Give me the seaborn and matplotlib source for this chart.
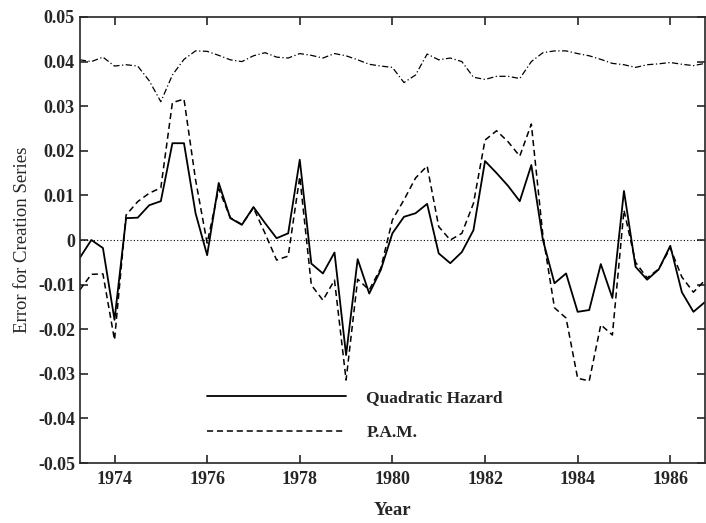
import numpy as np
import pandas as pd
import matplotlib
matplotlib.use("Agg")
import matplotlib.pyplot as plt
import seaborn as sns

# quarterly observations, 1973 Q2 .. 1986 Q4
years = 1973.25 + 0.25 * np.arange(55)

quad_hazard = [
    -0.0040, 0.0000, -0.0018, -0.0179, 0.0049, 0.0050, 0.0078, 0.0087,
    0.0217, 0.0217, 0.0060, -0.0034, 0.0128, 0.0049, 0.0034, 0.0074,
    0.0038, 0.0004, 0.0015, 0.0180, -0.0053, -0.0075, -0.0028, -0.0258,
    -0.0043, -0.0120, -0.0067, 0.0015, 0.0052, 0.0060, 0.0081, -0.0030,
    -0.0052, -0.0027, 0.0022, 0.0177, 0.0150, 0.0121, 0.0087, 0.0168,
    0.0000, -0.0097, -0.0075, -0.0161, -0.0157, -0.0054, -0.0130, 0.0110,
    -0.0060, -0.0089, -0.0066, -0.0013, -0.0117, -0.0161, -0.0139,
]

pam = [
    -0.0112, -0.0077, -0.0076, -0.0224, 0.0056, 0.0086, 0.0105, 0.0117,
    0.0308, 0.0316, 0.0135, -0.0007, 0.0115, 0.0050, 0.0035, 0.0072,
    0.0015, -0.0045, -0.0036, 0.0142, -0.0101, -0.0135, -0.0090, -0.0314,
    -0.0088, -0.0112, -0.0063, 0.0045, 0.0090, 0.0139, 0.0166, 0.0030,
    0.0000, 0.0015, 0.0082, 0.0224, 0.0245, 0.0220, 0.0188, 0.0260,
    0.0010, -0.0152, -0.0175, -0.0310, -0.0316, -0.0190, -0.0213, 0.0067,
    -0.0050, -0.0085, -0.0065, -0.0018, -0.0083, -0.0117, -0.0090,
]

# reference series drawn along the top (dash-dot)
creation = [
    0.0404, 0.0400, 0.0410, 0.0390, 0.0393, 0.0390, 0.0357, 0.0310,
    0.0370, 0.0405, 0.0424, 0.0423, 0.0414, 0.0404, 0.0400, 0.0413,
    0.0420, 0.0410, 0.0408, 0.0418, 0.0414, 0.0408, 0.0418, 0.0413,
    0.0404, 0.0394, 0.0390, 0.0387, 0.0353, 0.0370, 0.0417, 0.0404,
    0.0408, 0.0400, 0.0365, 0.0360, 0.0367, 0.0367, 0.0362, 0.0400,
    0.0420, 0.0424, 0.0424, 0.0418, 0.0413, 0.0405, 0.0396, 0.0393,
    0.0387, 0.0393, 0.0395, 0.0398, 0.0394, 0.0391, 0.0396,
]

y_ticks = [-0.05, -0.04, -0.03, -0.02, -0.01, 0, 0.01, 0.02, 0.03, 0.04, 0.05]
y_labels = ["-0.05", "-0.04", "-0.03", "-0.02", "-0.01", "0",
            "0.01", "0.02", "0.03", "0.04", "0.05"]
x_ticks = [1974, 1976, 1978, 1980, 1982, 1984, 1986]

df = pd.DataFrame({"Year": years, "Quadratic Hazard": quad_hazard,
                   "P.A.M.": pam, "creation": creation})

sns.set_style("ticks")
plt.rcParams["font.family"] = ["Liberation Serif", "DejaVu Serif"]

fig = plt.figure(figsize=(7.06, 5.23), dpi=100)
ax = fig.add_axes([0.113, 0.1147, 0.8856, 0.8528])

sns.lineplot(data=df, x="Year", y="creation", ax=ax, color="black",
             linewidth=0.9, dashes=False, label="_nolegend_")
ax.lines[-1].set_linestyle((0, (5, 2, 1, 2)))
sns.lineplot(data=df, x="Year", y="Quadratic Hazard", ax=ax, color="black",
             linewidth=1.3, label="Quadratic Hazard")
sns.lineplot(data=df, x="Year", y="P.A.M.", ax=ax, color="black",
             linewidth=1.1, label="P.A.M.")
ax.lines[-1].set_linestyle((0, (4, 2.5)))
ax.axhline(0, color="black", linewidth=0.8, linestyle=(0, (1, 2)))

ax.set_xlim(1973.25, 1986.75)
ax.set_ylim(-0.05, 0.05)
ax.set_xticks(x_ticks)
ax.set_xticklabels([str(t) for t in x_ticks], fontsize=13, fontweight="bold")
ax.set_yticks(y_ticks)
ax.set_yticklabels(y_labels, fontsize=13, fontweight="bold")
ax.tick_params(direction="in", top=True, right=True, length=6, width=1.2)
ax.tick_params(axis="x", pad=6)
for s in ax.spines.values():
    s.set_linewidth(1.2)

ax.set_xlabel("Year", fontsize=13.5, fontweight="bold", labelpad=10)
ax.set_ylabel("Error for Creation Series", fontsize=13.5, labelpad=5)

leg = ax.legend(loc="lower left", bbox_to_anchor=(0.189, 0.029), frameon=False,
                handlelength=8.05, handletextpad=1.15, labelspacing=1.1,
                borderpad=0, prop={"size": 12.5, "weight": "bold"})

fig.savefig("out.png", dpi=100)
